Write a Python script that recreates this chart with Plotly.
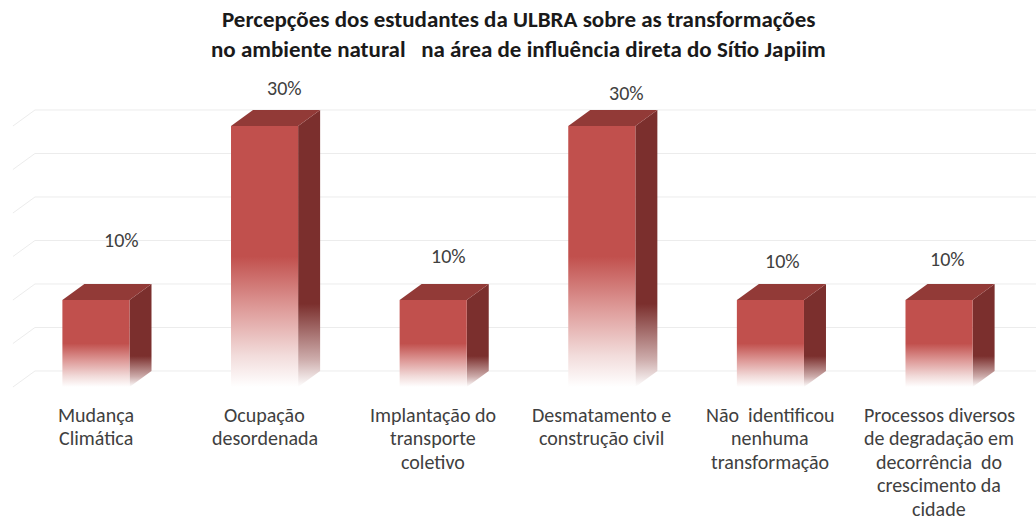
import plotly.graph_objects as go

# ---------------- data ----------------
categories = [
    "Mudança<br>Climática",
    "Ocupação<br>desordenada",
    "Implantação do<br>transporte<br>coletivo",
    "Desmatamento e<br>construção civil",
    "Não  identificou<br>nenhuma<br>transformação",
    "Processos diversos<br>de degradação em<br>decorrência  do<br>crescimento da<br>cidade",
]
values = [10, 30, 10, 30, 10, 10]
value_labels = ["10%", "30%", "10%", "30%", "10%", "10%"]
grid_levels = [0, 5, 10, 15, 20, 25, 30]
title_lines = [
    "Percepções dos estudantes da ULBRA sobre as transformações",
    "no ambiente natural   na área de influência direta do Sítio Japiim",
]

# manual label placement (as in the original chart), in axis units
label_dy = [6.9, 4.4, 5.1, 3.8, 4.5, 4.7]
label_dx = [0.154, 0.116, 0.092, 0.145, 0.071, 0.053]

# ---------------- geometry / style ----------------
X_RANGE = [-0.569, 5.575]
Y_RANGE = [-15.52, 44.48]
HALF_W = 0.199      # half width of a bar front face (category units)
DEPTH_X = 0.1305    # 3-D depth offset (category units)
DEPTH_Y = 1.84      # 3-D depth offset (value units)
WALL_X = -0.492     # left edge of the side wall
CAT_TOP = -3.2      # centre of first category-label line (value units)
CAT_STEP = 2.70     # line spacing of category labels (value units)

FRONT = "#C1504D"
TOP = "#923A37"
SIDE = "#7B2F2D"
GRID = "rgb(236,236,236)"
FONT = "Carlito, Lato, sans-serif"

front_scale = [[0, "rgb(255,255,255)"], [0.12, "rgb(242,220,219)"],
               [0.30, "rgb(222,155,153)"], [0.50, FRONT], [1, FRONT]]
side_scale = [[0, "rgb(255,255,255)"], [0.10, "rgb(205,172,171)"],
              [0.30, SIDE], [1, SIDE]]

fig = go.Figure()

# gridlines on back wall and side wall
for g in grid_levels:
    fig.add_trace(go.Scatter(
        x=[WALL_X, WALL_X + DEPTH_X, X_RANGE[1]],
        y=[g, g + DEPTH_Y, g + DEPTH_Y],
        mode="lines", line=dict(color=GRID, width=1),
        hoverinfo="skip", showlegend=False))

# 3-D bars
for i, v in enumerate(values):
    xl, xr = i - HALF_W, i + HALF_W
    # side face
    fig.add_trace(go.Scatter(
        x=[xr, xr, xr + DEPTH_X, xr + DEPTH_X, xr],
        y=[0, v, v + DEPTH_Y, DEPTH_Y, 0],
        mode="lines", line=dict(width=0), fill="toself",
        fillgradient=dict(type="vertical", colorscale=side_scale,
                          start=0, stop=v + DEPTH_Y),
        hoverinfo="skip", showlegend=False))
    # top face
    fig.add_trace(go.Scatter(
        x=[xl, xl + DEPTH_X, xr + DEPTH_X, xr, xl],
        y=[v, v + DEPTH_Y, v + DEPTH_Y, v, v],
        mode="lines", line=dict(width=0), fill="toself", fillcolor=TOP,
        hoverinfo="skip", showlegend=False))
    # front face
    fig.add_trace(go.Scatter(
        x=[xl, xl, xr, xr, xl],
        y=[0, v, v, 0, 0],
        mode="lines", line=dict(width=0), fill="toself",
        fillgradient=dict(type="vertical", colorscale=front_scale,
                          start=0, stop=v),
        hoverinfo="skip", showlegend=False))

annotations = []
for i, v in enumerate(values):
    annotations.append(dict(
        x=i + label_dx[i], y=v + label_dy[i], text=value_labels[i],
        showarrow=False, xanchor="center", yanchor="middle",
        font=dict(family=FONT, size=20, color="#404040")))
    for k, line in enumerate(categories[i].split("<br>")):
        annotations.append(dict(
            x=i, y=CAT_TOP - k * CAT_STEP, text=line, showarrow=False,
            xanchor="center", yanchor="middle",
            font=dict(family=FONT, size=20, color="#404040")))

for k, line in enumerate(title_lines):
    annotations.append(dict(
        x=0.5, y=1 - (19 + 30 * k) / 522, xref="paper", yref="paper",
        text="<b>" + line + "</b>", showarrow=False,
        xanchor="center", yanchor="middle",
        font=dict(family=FONT, size=23, color="#1a1a1a")))

fig.update_layout(
    width=1036, height=522,
    margin=dict(l=0, r=0, t=0, b=0),
    paper_bgcolor="white", plot_bgcolor="white",
    xaxis=dict(range=X_RANGE, visible=False, fixedrange=True),
    yaxis=dict(range=Y_RANGE, visible=False, fixedrange=True),
    annotations=annotations,
    showlegend=False,
)

fig.write_html("out.html", config={"displayModeBar": False},
               post_script="document.body.style.margin='0px';")
